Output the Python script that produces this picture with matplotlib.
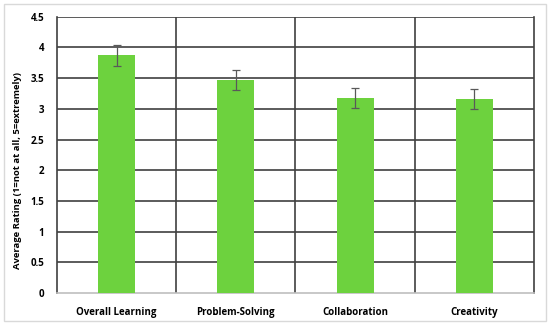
import matplotlib.pyplot as plt
from matplotlib.patches import FancyBboxPatch
import numpy as np

categories = ['Overall Learning', 'Problem-Solving', 'Collaboration', 'Creativity']
means = [3.87, 3.47, 3.18, 3.16]
errors = [0.17, 0.17, 0.16, 0.16]
yticks = [0, 0.5, 1, 1.5, 2, 2.5, 3, 3.5, 4, 4.5]
ytick_labels = ['0', '0.5', '1', '1.5', '2', '2.5', '3', '3.5', '4', '4.5']

plt.rcParams['font.family'] = ['Open Sans', 'DejaVu Sans']

fig = plt.figure(figsize=(5.5, 3.25), dpi=100)
# light frame round the whole chart
fig.patches.append(FancyBboxPatch((0.008, 0.012), 0.984, 0.976, boxstyle='square,pad=0',
                                  transform=fig.transFigure, fill=False,
                                  edgecolor='#d9d9d9', linewidth=1.0))
ax = fig.add_axes([0.1036, 0.0985, 0.8673, 0.85])

x = np.arange(len(categories))
ax.bar(x, means, width=0.31, color='#6dd23e', zorder=3)
ax.errorbar(x, means, yerr=errors, fmt='none', ecolor='#595959', elinewidth=0.9,
            capsize=3, capthick=0.9, zorder=4)

ax.set_xlim(-0.5, len(categories) - 0.5)
ax.set_ylim(0, 4.5)
ax.set_yticks(yticks)
ax.set_yticklabels(ytick_labels, fontsize=7, fontweight='bold')
ax.set_xticks(x)
ax.set_xticklabels(categories, fontsize=7, fontweight='bold')
ax.tick_params(length=0, pad=9)
ax.tick_params(axis='x', pad=10)

# grid: horizontal at ticks, vertical at category boundaries
for yv in yticks[1:]:
    ax.axhline(yv, color='#404040', linewidth=1.2, zorder=1)
for xb in np.arange(0.5, len(categories) - 0.5, 1):
    ax.axvline(xb, color='#404040', linewidth=1.2, zorder=1)

for side in ['left', 'right', 'bottom']:
    ax.spines[side].set_color('#404040')
    ax.spines[side].set_linewidth(1.2)
ax.spines['bottom'].set_color('#bfbfbf')
ax.spines['top'].set_visible(False)

ax.set_ylabel('Average Rating (1=not at all, 5=extremely)', fontsize=6.8, fontweight='bold')
ax.yaxis.set_label_coords(-0.073, 0.445)

fig.savefig('out.png', dpi=100)
